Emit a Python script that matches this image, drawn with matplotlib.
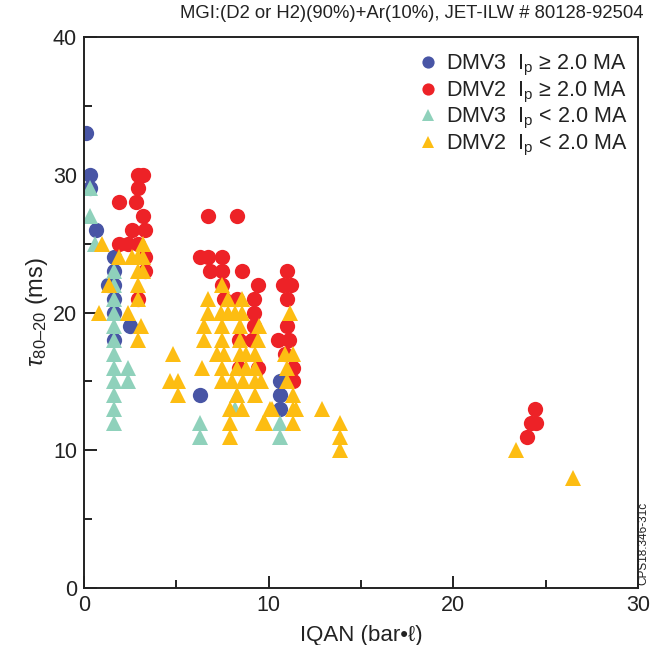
import matplotlib
matplotlib.use("Agg")
import matplotlib.pyplot as plt
from matplotlib.ticker import MultipleLocator

plt.rcParams['font.family'] = ['Liberation Sans', 'DejaVu Sans']
plt.rcParams['mathtext.fontset'] = 'custom'
plt.rcParams['mathtext.rm'] = 'Liberation Sans'
plt.rcParams['mathtext.it'] = 'Liberation Sans:italic'

# DMV3, Ip >= 2.0 MA
dmv3_hi_x = [0.1, 0.3, 0.3, 0.65, 1.6, 1.6, 1.3, 1.6, 1.6, 1.6, 1.6, 2.5, 6.3, 10.6, 10.6, 10.6]
dmv3_hi_y = [33, 30, 29, 26, 24, 23, 22, 22, 21, 20, 18, 19, 14, 15, 14, 13]

# DMV2, Ip >= 2.0 MA
dmv2_hi_x = [1.9, 2.9, 3.2, 2.9, 2.8, 3.2, 2.6, 3.3, 1.9, 2.4, 2.9, 3.3, 3.3, 2.9,
             6.7, 8.3, 6.3, 6.7, 7.5, 6.8, 7.5, 8.55, 7.5, 9.4, 7.6, 8.3, 9.2,
             9.2, 9.2, 8.4, 9.1, 8.4, 9.4,
             11.0, 10.8, 11.2, 11.0, 11.0, 10.5, 11.1, 10.9, 11.3, 11.3,
             24.4, 24.5, 24.2, 24.0]
dmv2_hi_y = [28, 30, 30, 29, 28, 27, 26, 26, 25, 25, 25, 24, 23, 21,
             27, 27, 24, 24, 24, 23, 23, 23, 22, 22, 21, 21, 21,
             20, 19, 18, 18, 16, 16,
             23, 22, 22, 21, 19, 18, 18, 17, 16, 15,
             13, 12, 12, 11]

# DMV3, Ip < 2.0 MA
dmv3_lo_x = [0.3, 0.3, 0.6, 1.6, 1.6, 1.6, 1.6, 1.6, 1.6, 1.6, 1.6, 1.6, 1.6, 1.6, 1.6,
             2.4, 2.4, 6.3, 6.3, 8.3, 8.2, 10.6, 10.6]
dmv3_lo_y = [29, 27, 25, 23, 22, 21, 20, 19, 18, 17, 16, 15, 14, 13, 12,
             16, 15, 12, 11, 14, 13, 12, 11]

# DMV2, Ip < 2.0 MA
dmv2_lo_x = [1.0, 1.35, 0.8, 1.9, 3.2, 2.6, 2.9, 3.2, 2.9, 3.2, 2.9, 2.9, 2.4, 3.1, 2.9,
             4.8, 4.65, 5.1, 5.1,
             7.5, 6.7, 7.8, 8.55, 6.7, 7.4, 7.8, 8.2, 8.55, 6.5, 7.5, 8.45, 9.5,
             6.5, 7.5, 8.45, 9.4, 7.2, 7.6, 8.45, 8.8, 9.25, 6.4, 7.5, 8.3, 8.8, 9.25,
             7.5, 8.0, 8.6, 9.25, 9.6, 8.3, 9.25, 7.9, 8.55, 7.9, 9.7, 7.9,
             11.15, 10.9, 11.3, 11.0, 11.0, 11.3, 10.2, 11.3, 11.5, 9.8, 11.3, 10.1,
             12.9, 13.85, 13.85, 13.85, 23.4, 26.5]
dmv2_lo_y = [25, 22, 20, 24, 25, 24, 24, 24, 23, 23, 22, 21, 20, 19, 18,
             17, 15, 15, 14,
             22, 21, 21, 21, 20, 20, 20, 20, 20, 19, 19, 19, 19,
             18, 18, 18, 18, 17, 17, 17, 17, 17, 16, 16, 16, 16, 16,
             15, 15, 15, 15, 15, 14, 14, 13, 13, 12, 12, 11,
             20, 17, 17, 16, 15, 14, 13, 13, 13, 12, 12, 13,
             13, 12, 11, 10, 10, 8]

labels = [r'DMV3  I$_\mathrm{p}$ ≥ 2.0 MA', r'DMV2  I$_\mathrm{p}$ ≥ 2.0 MA',
          r'DMV3  I$_\mathrm{p}$ < 2.0 MA', r'DMV2  I$_\mathrm{p}$ < 2.0 MA']
colors = ['#4855a5', '#ed2227', '#8fd1bb', '#fdbd12']

fig = plt.figure(figsize=(6.51, 6.45), dpi=100)
ax = fig.add_axes([0.129, 0.088, 0.851, 0.855])

ms = 11
ax.plot(dmv3_hi_x, dmv3_hi_y, 'o', color=colors[0], ms=ms, mew=0, label=labels[0])
ax.plot(dmv2_hi_x, dmv2_hi_y, 'o', color=colors[1], ms=ms, mew=0, label=labels[1])
ax.plot(dmv3_lo_x, dmv3_lo_y, '^', color=colors[2], ms=ms + 0.5, mew=0, label=labels[2])
ax.plot(dmv2_lo_x, dmv2_lo_y, '^', color=colors[3], ms=ms + 0.5, mew=0, label=labels[3])

ax.set_xlim(0, 30)
ax.set_ylim(0, 40)
ax.xaxis.set_major_locator(MultipleLocator(10))
ax.xaxis.set_minor_locator(MultipleLocator(5))
ax.yaxis.set_major_locator(MultipleLocator(10))
ax.yaxis.set_minor_locator(MultipleLocator(5))
ax.tick_params(which='both', direction='in', top=False, right=False, width=1.4,
               labelsize=15.5, color='#222222', labelcolor='#222222')
ax.tick_params(which='major', length=9, pad=5)
ax.tick_params(which='minor', length=6)
for s in ax.spines.values():
    s.set_linewidth(1.4)
    s.set_color('#222222')

ax.set_xlabel('IQAN (bar•ℓ)', fontsize=16, color='#222222', labelpad=6)
ax.set_ylabel(r'$\tau_\mathrm{80–20}$ (ms)', fontsize=17, color='#222222', labelpad=2)

fig.text(0.988, 0.979, 'MGI:(D2 or H2)(90%)+Ar(10%), JET-ILW # 80128-92504',
         ha='right', va='center', fontsize=13.3, color='#222222')
fig.text(0.998, 0.093, 'CPS18.346-31c', rotation=90, ha='right', va='bottom',
         fontsize=8.5, color='#222222')

leg = ax.legend(loc='upper right', bbox_to_anchor=(1.0, 0.99), frameon=False,
                fontsize=15.5, markerscale=0.8,
                handlelength=0.8, handletextpad=0.45, labelspacing=0.07,
                borderaxespad=0.3, borderpad=0.2)
for t in leg.get_texts():
    t.set_color('#222222')

fig.savefig('out.png', dpi=100)
